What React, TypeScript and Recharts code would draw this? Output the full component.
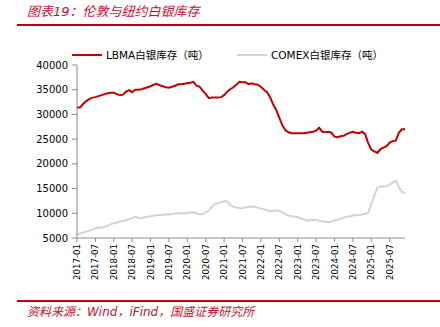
import React from 'react';
import { Line, LineChart, XAxis, YAxis } from 'recharts';

// monthly, 2017-01 .. 2025-12
const months: string[] = [];
for (let y = 2017; y <= 2025; y++) {
  for (let m = 1; m <= 12; m++) months.push(`${y}-${m < 10 ? '0' + m : m}`);
}

const lbma = [
  31400, 31400, 32100, 32700, 33100, 33400, 33500, 33700, 33900, 34100, 34300, 34400,
  34400, 34100, 33900, 34000, 34600, 34900, 34500, 35000, 35000, 35100, 35300, 35500,
  35700, 36000, 36200, 35900, 35700, 35500, 35400, 35600, 35800, 36100, 36100, 36200,
  36300, 36400, 36600, 35800, 35600, 34800, 34100, 33300, 33400, 33400, 33400, 33500,
  33900, 34600, 35100, 35500, 36000, 36600, 36500, 36500, 36100, 36300, 36100, 36000,
  35600, 35000, 34500, 33500, 32000, 30900, 29300, 27800, 26800, 26400, 26200, 26200,
  26200, 26200, 26200, 26300, 26400, 26500, 26700, 27300, 26500, 26400, 26500, 26300,
  25500, 25400, 25600, 25700, 26000, 26300, 26500, 26300, 26200, 26500, 26000, 24200,
  22900, 22500, 22200, 23000, 23300, 23600, 24300, 24600, 24700, 26300, 27000, 27000,
];

const comex = [
  5660, 5900, 6100, 6300, 6500, 6700, 7000, 7050, 7100, 7200, 7500, 7800,
  8000, 8150, 8300, 8450, 8600, 8800, 9050, 9300, 9100, 9000, 9200, 9300,
  9400, 9500, 9600, 9650, 9700, 9750, 9800, 9850, 9950, 10000, 10000, 10000,
  10050, 10150, 10200, 10000, 9800, 9800, 10200, 10600, 11300, 12000, 12000, 12300,
  12450, 12400, 11700, 11300, 11150, 11050, 11000, 11200, 11300, 11300, 11250, 11100,
  10900, 10800, 10600, 10400, 10500, 10600, 10500, 10200, 9800, 9500, 9400, 9300,
  9200, 9000, 8800, 8500, 8600, 8700, 8650, 8500, 8400, 8350, 8250, 8300,
  8600, 8700, 8900, 9150, 9300, 9400, 9550, 9600, 9650, 9750, 9900, 10100,
  11800, 13600, 15200, 15400, 15400, 15500, 15800, 16200, 16600, 15300, 14300, 14100,
];

const yTicks = [5000, 10000, 15000, 20000, 25000, 30000, 35000, 40000];

const data = months.map((m, i) => ({ date: m, lbma: lbma[i], comex: comex[i] }));

const RED = '#c00000';
const GREY = '#d3d3d3';
const AXIS = '#8c8c8c';
const FONT = '"DejaVu Sans", "Noto Sans CJK SC", sans-serif';

const DateTick = (props: any) => {
  const { x, y, payload } = props;
  return (
    <g transform={`translate(${x},${y})`}>
      <text
        transform="rotate(-90)"
        x={0}
        y={0}
        dy="0.35em"
        textAnchor="end"
        fontSize={8.6}
        fontFamily={FONT}
        fill="#000"
      >
        {payload.value}
      </text>
    </g>
  );
};

export default function App() {
  return (
    <div style={{ position: 'absolute', left: 0, top: 0, width: 440, height: 327, background: '#fff' }}>
      <div
        style={{
          position: 'absolute', left: 27, top: 3, fontSize: 13, lineHeight: '18px',
          fontStyle: 'italic', color: '#c8102e', fontFamily: FONT, whiteSpace: 'nowrap',
        }}
      >
        图表19：伦敦与纽约白银库存
      </div>
      <div style={{ position: 'absolute', left: 17, right: 0, top: 24, height: 2, background: RED }} />

      {/* legend */}
      <div style={{ position: 'absolute', left: 72, top: 54, width: 30, height: 2, background: RED }} />
      <div style={{ position: 'absolute', left: 106, top: 48, fontSize: 10.5, lineHeight: '14px', fontFamily: FONT, whiteSpace: 'nowrap' }}>
        LBMA白银库存（吨）
      </div>
      <div style={{ position: 'absolute', left: 237, top: 54, width: 30, height: 2, background: GREY }} />
      <div style={{ position: 'absolute', left: 271, top: 48, fontSize: 10.5, lineHeight: '14px', fontFamily: FONT, whiteSpace: 'nowrap' }}>
        COMEX白银库存（吨）
      </div>

      <div style={{ position: 'absolute', left: 0, top: 0 }}>
        <LineChart width={440} height={327} data={data} margin={{ top: 65, right: 35, bottom: 29, left: 17 }}>
          <XAxis
            dataKey="date"
            interval={5}
            height={60}
            tick={<DateTick />}
            tickSize={4}
            tickMargin={2}
            stroke={AXIS}
            tickLine={{ stroke: AXIS }}
          />
          <YAxis
            type="number"
            domain={[5000, 40000]}
            ticks={yTicks}
            width={60}
            tickSize={5}
            tickMargin={4}
            stroke={AXIS}
            tick={{ fontSize: 10, fontFamily: FONT, fill: '#000' }}
            allowDataOverflow
          />
          <Line dataKey="comex" stroke={GREY} strokeWidth={2} dot={false} isAnimationActive={false} />
          <Line dataKey="lbma" stroke={RED} strokeWidth={2} dot={false} isAnimationActive={false} />
        </LineChart>
      </div>

      <div style={{ position: 'absolute', left: 17, right: 0, top: 300, height: 1.5, background: RED }} />
      <div
        style={{
          position: 'absolute', left: 27, top: 304, fontSize: 12, lineHeight: '16px',
          fontStyle: 'italic', color: '#c8102e', fontFamily: FONT, whiteSpace: 'nowrap',
        }}
      >
        资料来源：Wind，iFind，国盛证券研究所
      </div>
    </div>
  );
}
